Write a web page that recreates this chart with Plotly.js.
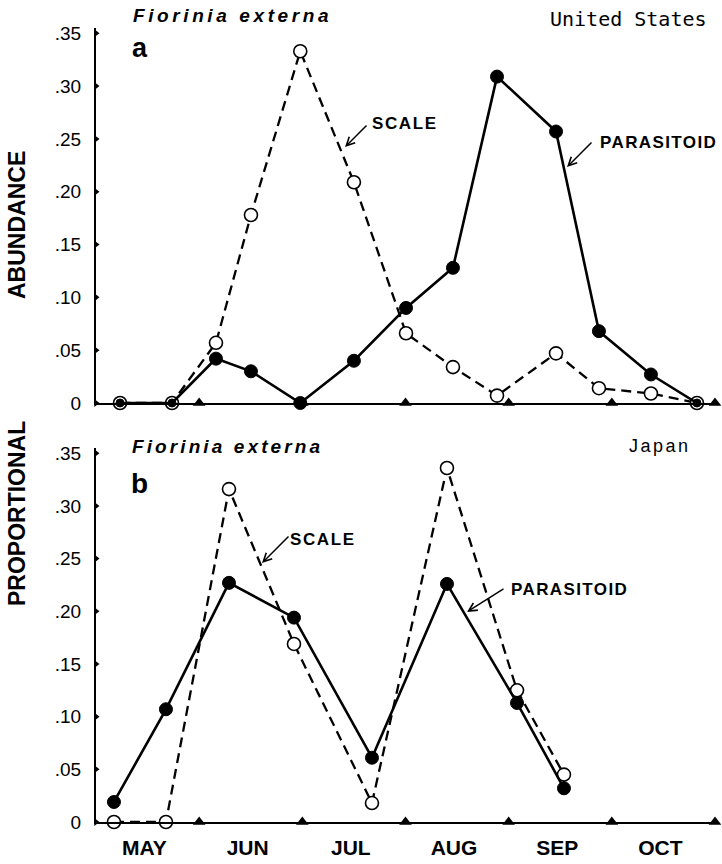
<!DOCTYPE html>
<html>
<head>
<meta charset="utf-8">
<script src="https://cdn.plot.ly/plotly-3.0.1.min.js"></script>
<style>
  html, body { margin: 0; padding: 0; background: #fff; }
  #chart { width: 722px; height: 864px; }
</style>
</head>
<body>
<div id="chart"></div>
<script>
// Months of the season; x runs in months from 1 May (0) to the end of October (6)
const months = ['MAY', 'JUN', 'JUL', 'AUG', 'SEP', 'OCT'];
const monthBounds = [1, 2, 3, 4, 5, 6];

// y ticks shared by both panels
const yTickVals = [0, 0.05, 0.10, 0.15, 0.20, 0.25, 0.30, 0.35];
const yTickText = ['0', '.05', '.10', '.15', '.20', '.25', '.30', '.35'];

// (a) United States — sample dates (months after 1 May) and proportional abundance
const usDates      = [0.233, 0.737, 1.163, 1.502, 1.980, 2.500, 3.005, 3.460, 3.887, 4.459, 4.875, 5.379, 5.825];
const usScale      = [0, 0, 0.057, 0.178, 0.333, 0.209, 0.066, 0.034, 0.007, 0.047, 0.014, 0.009, 0];
const usParasitoid = [0, 0, 0.042, 0.030, 0, 0.040, 0.090, 0.128, 0.309, 0.257, 0.068, 0.027, 0];

// (b) Japan
const jpDates      = [0.174, 0.678, 1.289, 1.919, 2.675, 3.402, 4.081, 4.536];
const jpScale      = [0, 0, 0.316, 0.169, 0.018, 0.336, 0.125, 0.045];
const jpParasitoid = [0.019, 0.107, 0.227, 0.194, 0.061, 0.226, 0.113, 0.032];

const W = 722, H = 864;
const FONT = 'Liberation Sans, Arial, Helvetica, sans-serif';
const px = v => v / W;          // pixel -> paper x
const py = v => 1 - v / H;      // pixel -> paper y

function scaleTrace(x, y, xa, ya) {
  return {
    x: x, y: y, xaxis: xa, yaxis: ya, type: 'scatter', mode: 'lines+markers',
    cliponaxis: false, hoverinfo: 'skip',
    line: { color: '#000', width: 2.3, dash: '10px,6px' },
    marker: { symbol: 'circle', size: 13, color: '#fff', opacity: 1, line: { color: '#000', width: 1.6 } }
  };
}
function parasitoidTrace(x, y, other, xa, ya) {
  // where both series sit at zero, the filled dot is drawn smaller inside the open ring
  const sizes = y.map((v, i) => (v === 0 && other[i] === 0) ? 8 : 13);
  return {
    x: x, y: y, xaxis: xa, yaxis: ya, type: 'scatter', mode: 'lines+markers',
    cliponaxis: false, hoverinfo: 'skip',
    line: { color: '#000', width: 2.6 },
    marker: { symbol: 'circle', size: sizes, color: '#000', opacity: 1, line: { color: '#000', width: 1 } }
  };
}
function monthMarks(xa, ya) {
  return {
    x: monthBounds, y: monthBounds.map(() => 0), xaxis: xa, yaxis: ya,
    type: 'scatter', mode: 'markers', cliponaxis: false, hoverinfo: 'skip',
    marker: { symbol: 'triangle-up', size: 11, color: '#000', opacity: 1 }
  };
}
function yMarks(xa, ya) {
  return {
    x: yTickVals.map(() => 0), y: yTickVals, xaxis: xa, yaxis: ya,
    type: 'scatter', mode: 'markers', cliponaxis: false, hoverinfo: 'skip',
    marker: { symbol: 'triangle-right', size: 7, color: '#000', opacity: 1 }
  };
}

const data = [
  scaleTrace(usDates, usScale, 'x', 'y'),
  parasitoidTrace(usDates, usParasitoid, usScale, 'x', 'y'),
  monthMarks('x', 'y'), yMarks('x', 'y'),
  scaleTrace(jpDates, jpScale, 'x2', 'y2'),
  parasitoidTrace(jpDates, jpParasitoid, jpScale, 'x2', 'y2'),
  monthMarks('x2', 'y2'), yMarks('x2', 'y2')
];

const xDomain = [px(96), px(715)];
const baseX = {
  range: [0, 6], domain: xDomain, showgrid: false, zeroline: false,
  showline: true, linecolor: '#000', linewidth: 2, ticks: '', automargin: false
};
const baseY = {
  range: [0, 0.355], showgrid: false, zeroline: false,
  showline: true, linecolor: '#000', linewidth: 2, ticks: '',
  tickmode: 'array', tickvals: yTickVals, ticktext: yTickText,
  tickfont: { family: FONT, size: 19, color: '#000' }, ticklabelstandoff: 9,
  automargin: false
};

const labelFont = (size, extra) => Object.assign({ family: FONT, size: size, color: '#000' }, extra || {});
function label(text, cx, cy, font, angle) {
  return { text: text, xref: 'paper', yref: 'paper', x: px(cx), y: py(cy),
    xanchor: 'center', yanchor: 'middle', showarrow: false, font: font, textangle: angle || 0 };
}
function pointer(headX, headY, dx, dy) {
  return { text: '', xref: 'paper', yref: 'paper', x: px(headX), y: py(headY),
    ax: dx, ay: dy, showarrow: true, arrowhead: 5, arrowsize: 1.1, arrowwidth: 1.5,
    arrowcolor: '#000', standoff: 0, startstandoff: 0 };
}
const spaced = (t, s) => '<span style="letter-spacing:' + s + 'px">' + t + '</span>';

const annotations = [
  label(spaced('Fiorinia externa', 3.6), 232, 15, labelFont(19, { weight: 'bold', style: 'italic' })),
  label(spaced('Fiorinia externa', 3.1), 227, 446, labelFont(19, { weight: 'bold', style: 'italic' })),
  label('a', 140, 48, labelFont(27, { weight: 'bold' })),
  label('b', 139, 483, labelFont(28, { weight: 'bold' })),
  label('United States', 628, 19, labelFont(20, { family: 'DejaVu Sans Mono, monospace' })),
  label(spaced('Japan', 2.5), 660, 446, labelFont(18)),
  label(spaced('SCALE', 1.6), 405, 124, labelFont(17, { weight: 'bold' })),
  label(spaced('PARASITOID', 1.4), 658, 142, labelFont(17, { weight: 'bold' })),
  label(spaced('SCALE', 1.6), 323, 539, labelFont(17, { weight: 'bold' })),
  label(spaced('PARASITOID', 1.4), 569, 589, labelFont(17, { weight: 'bold' })),
  label('ABUNDANCE', 17, 225, labelFont(23, { weight: 'bold' }), -90),
  label('PROPORTIONAL', 17, 514, labelFont(23, { weight: 'bold' }), -90),
  pointer(345, 147, 23, -23),
  pointer(567, 167, 26, -26),
  pointer(262, 563, 28, -28),
  pointer(467, 612, 38, -24)
];

const layout = {
  width: W, height: H,
  margin: { l: 0, r: 0, t: 0, b: 0 },
  paper_bgcolor: '#fff', plot_bgcolor: '#fff',
  showlegend: false,
  font: { family: FONT, color: '#000' },
  xaxis: Object.assign({}, baseX, { anchor: 'y', showticklabels: false }),
  yaxis: Object.assign({}, baseY, { anchor: 'x', domain: [py(403), py(28)] }),
  xaxis2: Object.assign({}, baseX, {
    anchor: 'y2', tickmode: 'array',
    tickvals: months.map((m, i) => i + 0.47), ticktext: months,
    tickfont: { family: FONT, size: 21, color: '#000', weight: 'bold' },
    ticklabelstandoff: 6
  }),
  yaxis2: Object.assign({}, baseY, { anchor: 'x2', domain: [py(822), py(448)] }),
  annotations: annotations
};

Plotly.newPlot('chart', data, layout, { staticPlot: true, displayModeBar: false });
</script>
</body>
</html>
